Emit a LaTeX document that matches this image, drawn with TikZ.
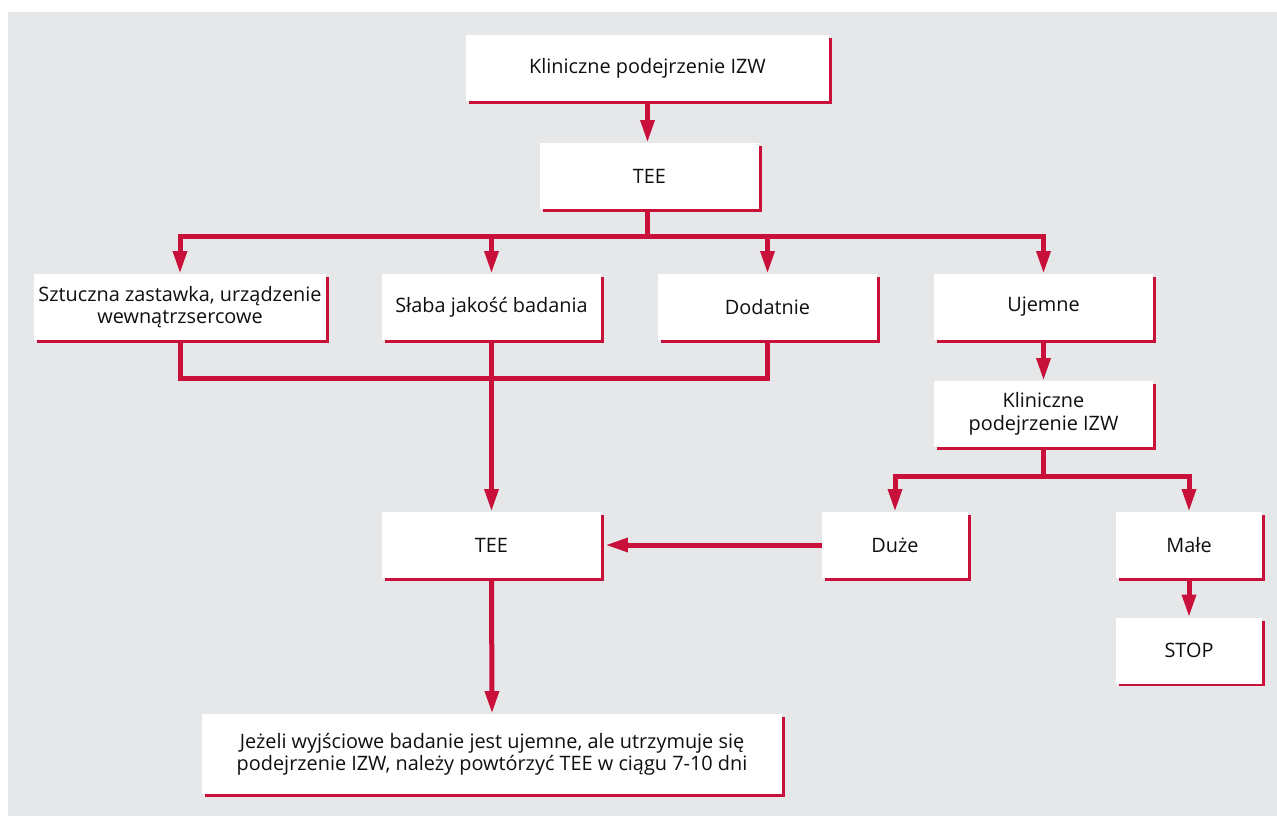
\documentclass[tikz,border=0pt]{standalone}
\usepackage{fontspec}
\setmainfont{Open Sans}
\usetikzlibrary{arrows.meta}
\definecolor{bgc}{RGB}{230,231,233}
\definecolor{redc}{RGB}{200,16,58}
\definecolor{txtc}{RGB}{15,15,15}
\tikzset{
  box/.style={rectangle, fill=white, inner sep=0pt, align=center, text=txtc,
    font=\fontsize{14.9}{16.8}\selectfont},
  conn/.style={draw=redc, line width=3.75pt},
  arr/.style={conn, -{Triangle[length=17pt,width=10pt]}},
  edgeL/.style={draw=redc, line width=1.9pt},
}
\begin{document}
\begin{tikzpicture}[x=0.75pt,y=-0.75pt]
\useasboundingbox (0,0) rectangle (1277,816);
\fill[bgc] (8,12) rectangle (1277,816);

\node[box, minimum width=272.25pt, minimum height=49.5pt] (a) at (647.5,68) {Kliniczne podejrzenie IZW};
\node[box, minimum width=164.25pt, minimum height=49.5pt] (b) at (649.5,176) {TEE};
\node[box, minimum width=219pt, minimum height=49.5pt] (c1) at (180,307) {Sztuczna zastawka, urządzenie\\wewnątrzsercowe};
\node[box, minimum width=164.25pt, minimum height=49.5pt] (c2) at (491.5,307) {Słaba jakość badania};
\node[box, minimum width=164.25pt, minimum height=49.5pt] (c3) at (767.5,307) {Dodatnie};
\node[box, minimum width=164.25pt, minimum height=49.5pt] (c4) at (1043.5,307) {Ujemne};
\node[box, minimum width=164.25pt, minimum height=49.5pt] (d) at (1043.5,414) {Kliniczne\\podejrzenie IZW};
\node[box, minimum width=164.25pt, minimum height=49.5pt] (e) at (491.5,545) {TEE};
\node[box, minimum width=109.5pt, minimum height=49.5pt] (f) at (895,545) {Duże};
\node[box, minimum width=109.5pt, minimum height=49.5pt] (g) at (1189,545) {Małe};
\node[box, minimum width=109.5pt, minimum height=49.5pt] (h) at (1189,650.5) {STOP};
\node[box, minimum width=435pt, minimum height=60pt] (i) at (492,754) {Jeżeli wyjściowe badanie jest ujemne, ale utrzymuje się\\podejrzenie IZW, należy powtórzyć TEE w ciągu 7-10 dni};

\foreach \n in {a,b,c1,c2,c3,c4,d,e,f,g,h,i}{
  \draw[edgeL] ([xshift=2.5pt,yshift=-0.9pt]\n.south west) -- ([xshift=0.9pt,yshift=-0.9pt]\n.south east) -- ([xshift=0.9pt,yshift=-2.5pt]\n.north east);
}

\coordinate (br) at (647.5,237);
\coordinate (mg) at (491.5,378);
\coordinate (br2) at (1043.5,476);

\draw[arr] (a.south) -- (a.south |- b.north);
\draw[conn] (a.south |- b.south) -- (br);
\draw[arr] (br) -| (c1.north);
\draw[arr] (br) -| (c2.north);
\draw[arr] (br) -| (c3.north);
\draw[arr] (br) -| (c4.north);

\draw[conn] (c1.south) |- (mg) -| (c3.south);
\draw[arr] (c2.south) -- (e.north);

\draw[arr] (c4.south) -- (d.north);
\draw[conn] (d.south) -- (br2);
\draw[arr] (br2) -| (f.north);
\draw[arr] (br2) -| (g.north);

\draw[arr] (f.west) -- ([xshift=3pt]e.east);
\draw[arr] (g.south) -- (h.north);
\draw[arr] (e.south) -- (i.north);
\end{tikzpicture}
\end{document}
